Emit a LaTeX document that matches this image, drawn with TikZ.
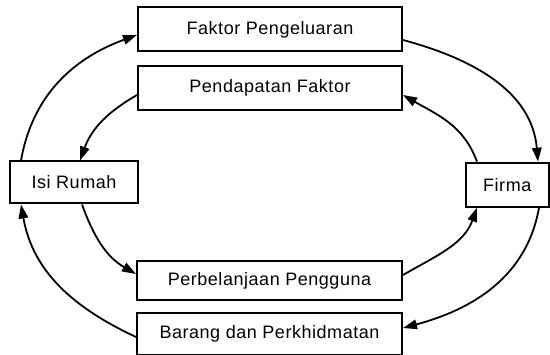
\documentclass[tikz,border=0pt]{standalone}
\usepackage{fontspec}
\setmainfont{Liberation Sans}[LetterSpace=3]
\usetikzlibrary{arrows.meta}
\begin{document}
\begin{tikzpicture}[x=1pt,y=1pt,
  box/.style={draw, line width=2pt, inner sep=0pt, font=\fontsize{18}{21}\selectfont},
  flow/.style={line width=1.8pt, -{Triangle[length=14pt,width=9.5pt]}}]
\useasboundingbox (0,0) rectangle (550,-355);
\clip (0,0) rectangle (550,-355);
\node[box, minimum width=264pt, minimum height=44pt] (fp) at (270,-29.5) {Faktor Pengeluaran};
\node[box, minimum width=264pt, minimum height=44pt] (pf) at (270,-88) {Pendapatan Faktor};
\node[box, minimum width=128pt, minimum height=42pt] (ir) at (74,-182.5) {Isi Rumah};
\node[box, minimum width=82.5pt, minimum height=44pt] (fi) at (507.25,-184.7) {Firma};
\node[box, minimum width=265pt, minimum height=39pt] (pp) at (269.5,-280.5) {Perbelanjaan Pengguna};
\node[box, minimum width=265pt, minimum height=42pt] (bp) at (269.5,-334) {Barang dan Perkhidmatan};

\draw[flow] ([xshift=12pt]ir.north west) to[out=80,in=200] ([yshift=-5.5pt]fp.west);
\draw[flow] ([yshift=-10.5pt]fp.east) to[out=-15,in=95] ([xshift=-11.5pt]fi.north east);
\draw[flow] ([xshift=12pt]fi.north west) to[out=110,in=-30] ([yshift=-7pt]pf.east);
\draw[flow] ([yshift=-7pt]pf.west) to[out=210,in=70] ([xshift=6pt]ir.north);
\draw[flow] ([xshift=8pt]ir.south) to[out=-70,in=150] ([yshift=6.5pt]pp.west);
\draw[flow] ([yshift=5.5pt]pp.east) to[out=30,in=-110] ([xshift=12pt]fi.south west);
\draw[flow] ([xshift=-10.5pt]fi.south east) to[out=-100,in=15] ([yshift=6pt]bp.east);
\draw[flow] ([yshift=-3pt]bp.west) to[out=155,in=-80] ([xshift=12pt]ir.south west);
\end{tikzpicture}
\end{document}
